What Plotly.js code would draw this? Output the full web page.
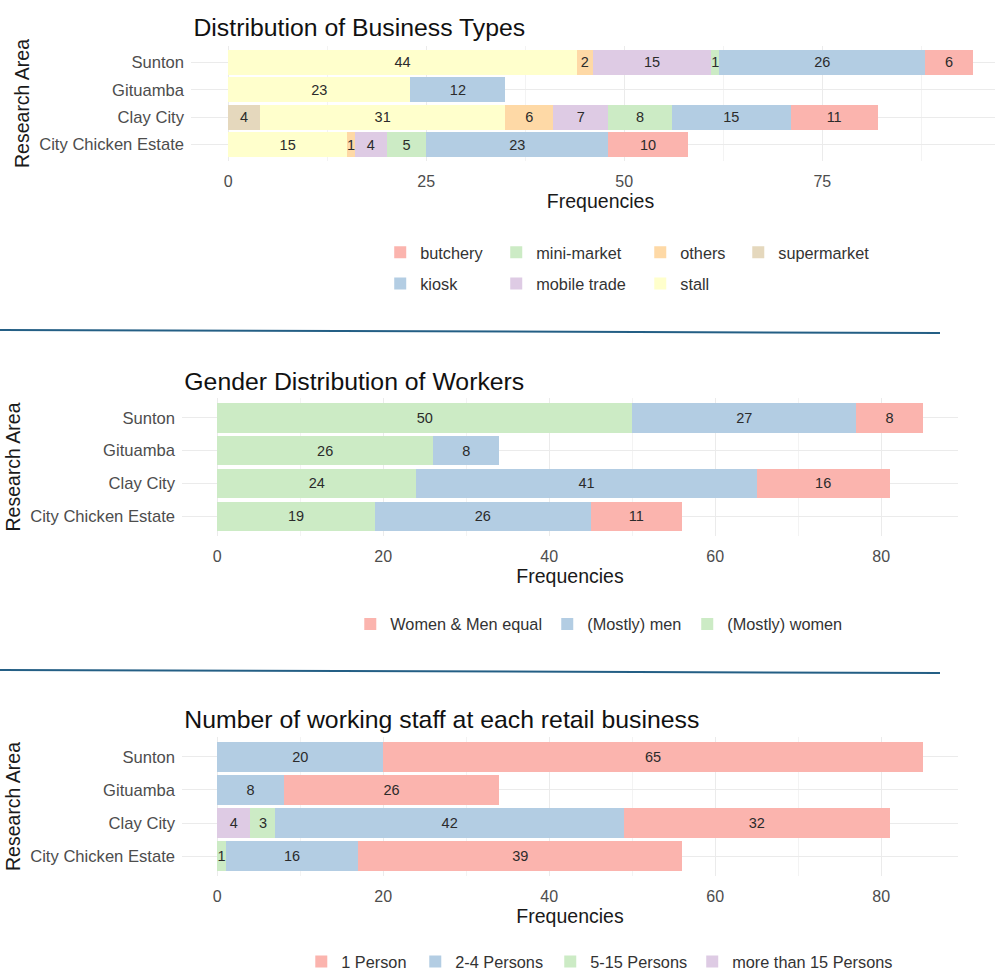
<!DOCTYPE html>
<html>
<head>
<meta charset="utf-8">
<script src="https://cdn.plot.ly/plotly-3.0.1.min.js"></script>
<style>
	html, body { margin:0; padding:0; background:#fff; overflow:hidden; width:995px; height:972px; }
	.panel { position:absolute; left:0; }
	.sep { position:absolute; left:0; width:940px; height:2px; background:#245f85; transform-origin:0 0; transform:rotate(0.18deg); z-index:5; }
</style>
</head>
<body>
<div id="myPlot1" class="panel" style="top:0px;width:1040px;height:330px"></div>
<div id="myPlot2" class="panel" style="top:335px;width:995px;height:335px"></div>
<div id="myPlot3" class="panel" style="top:675px;width:995px;height:310px"></div>
<div class="sep" style="top:329px"></div>
<div class="sep" style="top:669px"></div>

<script>
// research areas, bottom to top
var areas = ['City Chicken Estate', 'Clay City', 'Gituamba', 'Sunton'];

// --- business types (stacked left -> right) ---
var bizNames  = ['supermarket', 'stall', 'others', 'mobile trade', 'mini-market', 'kiosk', 'butchery'];
var bizColors = ['#E5D8BD', '#FFFFCC', '#FED9A6', '#DECBE4', '#CCEBC5', '#B3CDE3', '#FBB4AE'];
var supermarket = [0, 4, 0, 0];
var stall       = [15, 31, 23, 44];
var others      = [1, 6, 0, 2];
var mobileTrade = [4, 7, 0, 15];
var miniMarket  = [5, 8, 0, 1];
var kiosk       = [23, 15, 12, 26];
var butchery    = [10, 11, 0, 6];
var bizValues = [supermarket, stall, others, mobileTrade, miniMarket, kiosk, butchery];

// --- gender of workers ---
var genderNames  = ['(Mostly) women', '(Mostly) men', 'Women & Men equal'];
var genderColors = ['#CCEBC5', '#B3CDE3', '#FBB4AE'];
var mostlyWomen = [19, 24, 26, 50];
var mostlyMen   = [26, 41, 8, 27];
var equalMix    = [11, 16, 0, 8];
var genderValues = [mostlyWomen, mostlyMen, equalMix];

// --- working staff ---
var staffNames  = ['more than 15 Persons', '5-15 Persons', '2-4 Persons', '1 Person'];
var staffColors = ['#DECBE4', '#CCEBC5', '#B3CDE3', '#FBB4AE'];
var staffOver15 = [0, 4, 0, 0];
var staff5to15  = [1, 3, 0, 0];
var staff2to4   = [16, 42, 8, 20];
var staff1      = [39, 32, 26, 65];
var staffValues = [staffOver15, staff5to15, staff2to4, staff1];

var FONT = 'Liberation Sans, Arial, sans-serif';

function makeTraces(names, values, colors, legendIds, ranks){
	var traces = [];
	for(var i = 0; i < names.length; i++){
		traces.push({
			type: 'bar',
			orientation: 'h',
			name: names[i],
			y: areas,
			x: values[i],
			text: values[i].map(function(v){ return v > 0 ? String(v) : ''; }),
			textposition: 'inside',
			insidetextanchor: 'middle',
			textangle: 0,
			constraintext: 'none',
			insidetextfont: {family: FONT, size: 14.5, color: '#2b2b2b'},
			marker: {color: colors[i], line: {width: 0}},
			legend: legendIds[i],
			legendgroup: names[i],
			legendrank: ranks[i],
			hoverinfo: 'skip',
			cliponaxis: false
		});
	}
	return traces;
}

// px helpers -> paper coords of a panel
function px2x(px, l, w){ return (px - l) / w; }
function px2y(px, t, h){ return 1 - (px - t) / h; }

function baseLayout(title, titleY, xRange, dtick, m, W, H){
	return {
		width: W, height: H,
		margin: m,
		paper_bgcolor: 'rgba(0,0,0,0)',
		plot_bgcolor: 'rgba(0,0,0,0)',
		barmode: 'stack',
		bargap: 0.1,
		font: {family: FONT, color: '#4d4d4d'},
		title: {
			text: title,
			font: {family: FONT, size: 24.8, color: '#111111'},
			xref: 'paper', x: 0.003, xanchor: 'left',
			yref: 'container', y: titleY, yanchor: 'middle'
		},
		xaxis: {
			range: xRange,
			tick0: 0, dtick: dtick,
			showgrid: true, gridcolor: '#ebebeb', gridwidth: 1,
			minor: {dtick: dtick / 2, showgrid: true, gridcolor: '#f3f3f3', gridwidth: 1},
			zeroline: false, showline: false, ticks: '',
			ticklabelstandoff: 9,
			tickfont: {family: FONT, size: 16, color: '#4d4d4d'},
			title: {text: 'Frequencies', font: {family: FONT, size: 19.5, color: '#1a1a1a'}, standoff: 2},
			fixedrange: true
		},
		yaxis: {
			type: 'category',
			categoryorder: 'array', categoryarray: areas,
			range: [-0.6, 3.6],
			showgrid: true, gridcolor: '#ebebeb', gridwidth: 1,
			zeroline: false, showline: false, ticks: '',
			ticklabelstandoff: 6,
			tickfont: {family: FONT, size: 16.6, color: '#4d4d4d'},
			title: {text: 'Research Area', font: {family: FONT, size: 19.5, color: '#1a1a1a'}, standoff: 4},
			fixedrange: true
		},
		showlegend: true
	};
}

function legendBox(x, y){
	return {
		x: x, y: y, xanchor: 'left', yanchor: 'top',
		orientation: 'v', traceorder: 'grouped',
		tracegroupgap: 7,
		bgcolor: 'rgba(0,0,0,0)', borderwidth: 0,
		font: {family: FONT, size: 16.3, color: '#333333'}
	};
}

function plotData(){

	// ---------- panel 1 ----------
	var m1 = {l: 190.8, r: 30.3, t: 46, b: 168.5, autoexpand: false};
	var w1 = 1040 - m1.l - m1.r, h1 = 330 - m1.t - m1.b;
	// legend columns: butchery/kiosk | mini-market/mobile trade | others/stall | supermarket
	var bizLegend = ['legend4', 'legend3', 'legend3', 'legend2', 'legend2', 'legend', 'legend'];
	var bizRank   = [1, 2, 1, 2, 1, 2, 1];
	var layout1 = baseLayout('Distribution of Business Types', 1 - 27 / 330, [-4.7, 98.7], 25, m1, 1040, 330);
	var top1 = px2y(236, m1.t, h1);
	layout1.legend  = legendBox(px2x(380, m1.l, w1), top1);
	layout1.legend2 = legendBox(px2x(496, m1.l, w1), top1);
	layout1.legend3 = legendBox(px2x(640, m1.l, w1), top1);
	layout1.legend4 = legendBox(px2x(738, m1.l, w1), top1);
	Plotly.newPlot('myPlot1', makeTraces(bizNames, bizValues, bizColors, bizLegend, bizRank), layout1, {staticPlot: true, displayModeBar: false});

	// ---------- panel 2 ----------
	var m2 = {l: 181.7, r: 37.2, t: 63.3, b: 133.8, autoexpand: false};
	var w2 = 995 - m2.l - m2.r, h2 = 335 - m2.t - m2.b;
	var layout2 = baseLayout('Gender Distribution of Workers', 1 - 46 / 335, [-4.25, 89.25], 20, m2, 995, 335);
	var top2 = px2y(607 - 335, m2.t, h2);
	layout2.legend  = legendBox(px2x(350, m2.l, w2), top2);
	layout2.legend2 = legendBox(px2x(547, m2.l, w2), top2);
	layout2.legend3 = legendBox(px2x(687, m2.l, w2), top2);
	Plotly.newPlot('myPlot2', makeTraces(genderNames, genderValues, genderColors, ['legend3', 'legend2', 'legend'], [1, 1, 1]), layout2, {staticPlot: true, displayModeBar: false});

	// ---------- panel 3 ----------
	var m3 = {l: 181.7, r: 37.2, t: 62, b: 108.6, autoexpand: false};
	var w3 = 995 - m3.l - m3.r, h3 = 310 - m3.t - m3.b;
	var layout3 = baseLayout('Number of working staff at each retail business', 1 - 44 / 310, [-4.25, 89.25], 20, m3, 995, 310);
	var top3 = px2y(945 - 675, m3.t, h3);
	layout3.legend  = legendBox(px2x(301, m3.l, w3), top3);
	layout3.legend2 = legendBox(px2x(415, m3.l, w3), top3);
	layout3.legend3 = legendBox(px2x(550, m3.l, w3), top3);
	layout3.legend4 = legendBox(px2x(692, m3.l, w3), top3);
	Plotly.newPlot('myPlot3', makeTraces(staffNames, staffValues, staffColors, ['legend4', 'legend3', 'legend2', 'legend'], [1, 1, 1, 1]), layout3, {staticPlot: true, displayModeBar: false});
}

plotData();
</script>
</body>
</html>
